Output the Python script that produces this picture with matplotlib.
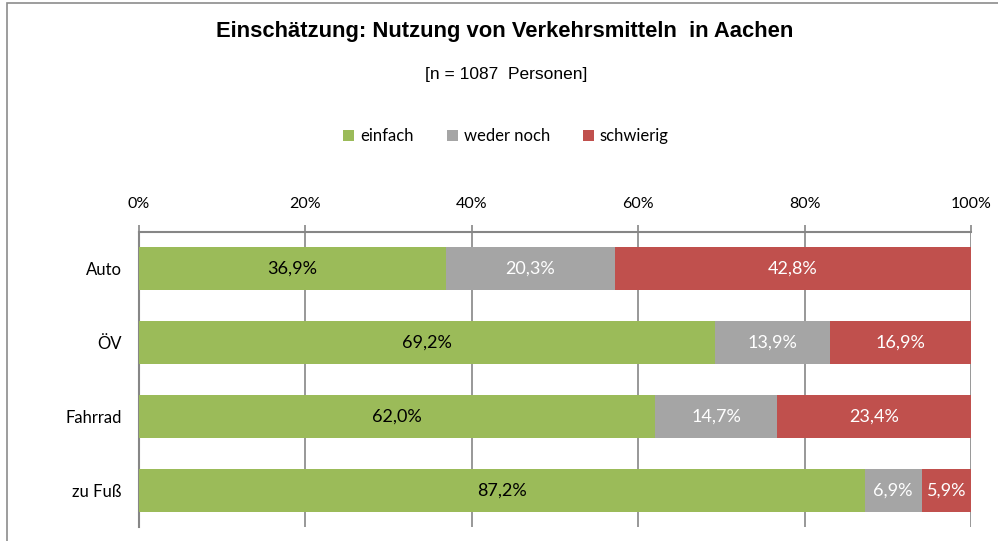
import matplotlib
matplotlib.use("Agg")
import matplotlib.pyplot as plt
from matplotlib.patches import Rectangle, Patch

categories = ["Auto", "ÖV", "Fahrrad", "zu Fuß"]
series_names = ["einfach", "weder noch", "schwierig"]
einfach = [36.9, 69.2, 62.0, 87.2]
weder_noch = [20.3, 13.9, 14.7, 6.9]
schwierig = [42.8, 16.9, 23.4, 5.9]
xticks = [0, 20, 40, 60, 80, 100]
xtick_labels = ["0%", "20%", "40%", "60%", "80%", "100%"]

colors = ["#9BBB59", "#A5A5A5", "#C0504D"]
label_colors = ["#000000", "#FFFFFF", "#FFFFFF"]
font = ["Lato", "DejaVu Sans"]

fig = plt.figure(figsize=(9.98, 5.41), dpi=100)
fig.patches.append(Rectangle((7/998, -0.1), 1.2, 1 - 3/541 + 0.1, transform=fig.transFigure,
                             fill=False, edgecolor="#8C8C8C", linewidth=1.2, zorder=0))

ax = fig.add_axes([139/998, 1 - 527/541, (971-139)/998, (527-232)/541])

ypos = list(range(len(categories)))
lefts = [0.0] * len(categories)
for name, vals, col, lcol in zip(series_names, [einfach, weder_noch, schwierig], colors, label_colors):
    bars = ax.barh(ypos, vals, left=lefts, height=0.58, color=col, label=name, zorder=3)
    labels = [f"{v:.1f}%".replace(".", ",") for v in vals]
    ax.bar_label(bars, labels=labels, label_type="center", color=lcol, fontsize=13, family=font)
    lefts = [l + v for l, v in zip(lefts, vals)]

ax.set_xlim(0, 100)
ax.set_ylim(len(categories) - 0.5, -0.5)
ax.xaxis.tick_top()
ax.set_xticks(xticks)
ax.set_xticklabels(xtick_labels, family=font, fontsize=11.5)
ax.set_yticks(ypos)
ax.set_yticklabels(categories, family=font, fontsize=12)
ax.tick_params(axis="x", length=5, color="#868686", width=1.2, pad=10, labelcolor="#000000")
ax.tick_params(axis="y", length=0, pad=12.5, labelcolor="#000000")
ax.grid(axis="x", color="#868686", linewidth=1.2, zorder=0)
for s in ["right", "bottom"]:
    ax.spines[s].set_visible(False)
ax.spines["top"].set_color("#868686")
ax.spines["top"].set_linewidth(1.5)
ax.spines["left"].set_color("#868686")
ax.spines["left"].set_linewidth(1.5)
ax.set_axisbelow(True)

fig.text(505/998, 1 - 31/541, "Einschätzung: Nutzung von Verkehrsmitteln  in Aachen",
         ha="center", va="center", fontsize=15.8, fontweight="bold",
         family=["Liberation Sans", "DejaVu Sans"])
fig.text(506/998, 1 - 75/541, "[n = 1087  Personen]", ha="center", va="center",
         fontsize=12.5, family=["Liberation Sans", "DejaVu Sans"])

handles = [Patch(facecolor=c, label=n) for c, n in zip(colors, series_names)]
leg = fig.legend(handles=handles, loc="center", bbox_to_anchor=(506/998, 1 - 136/541), ncol=3,
                 frameon=False, prop={"family": font, "size": 12}, handlelength=0.65, handleheight=0.65,
                 handletextpad=0.35, columnspacing=2.0)

fig.savefig("out.png", dpi=100)
